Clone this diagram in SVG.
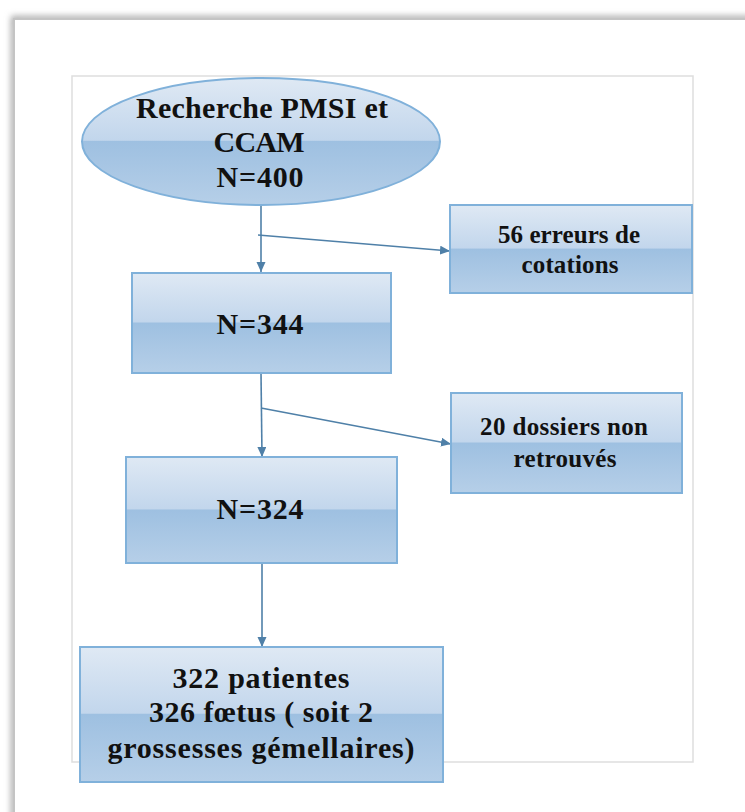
<svg xmlns="http://www.w3.org/2000/svg" width="745" height="812" viewBox="0 0 745 812">
  <defs>
    <linearGradient id="gloss" x1="0" y1="0" x2="0" y2="1">
      <stop offset="0" stop-color="#dfe9f4"/>
      <stop offset="0.49" stop-color="#c2d6ec"/>
      <stop offset="0.5" stop-color="#9ec0e1"/>
      <stop offset="1" stop-color="#b6cfe8"/>
    </linearGradient>
    <filter id="pageShadow" x="-0.1" y="-0.1" width="1.2" height="1.2">
      <feGaussianBlur stdDeviation="3"/>
    </filter>
    <marker id="arrow" markerUnits="userSpaceOnUse" markerWidth="11" markerHeight="10" refX="10" refY="4.5" orient="auto">
      <path d="M0,0 L10,4.5 L0,9 z" fill="#4f80a8"/>
    </marker>
  </defs>
  <style>
    .shape { fill: url(#gloss); stroke: #80b1da; stroke-width: 2; }
    .conn { stroke: #4f80a8; stroke-width: 1.6; fill: none; marker-end: url(#arrow); }
    .lbl { font-family: "Liberation Serif", "Times New Roman", serif; font-weight: bold; fill: #111; text-anchor: middle; }
    .big { font-size: 30px; }
    .mid { font-size: 30px; }
    .small { font-size: 25px; }
  </style>
  <rect width="745" height="812" fill="#ffffff"/>
  <g id="page">
    <rect x="14" y="19" width="800" height="850" fill="none" stroke="#a8a8a8" stroke-width="6" filter="url(#pageShadow)"/>
    <rect x="14" y="19" width="800" height="850" fill="#ffffff" stroke="#c4c4c4" stroke-width="2"/>
    <rect x="72" y="76" width="621" height="686" fill="#ffffff" stroke="#dedede" stroke-width="1.5"/>
  </g>
  <g id="connectors">
    <line class="conn" x1="261" y1="205" x2="261" y2="272"/>
    <line class="conn" x1="258" y1="235" x2="450" y2="251"/>
    <line class="conn" x1="261" y1="373" x2="262" y2="457"/>
    <line class="conn" x1="261" y1="408" x2="451" y2="444"/>
    <line class="conn" x1="262" y1="563" x2="262" y2="647"/>
  </g>
  <g id="node-pmsi">
    <ellipse class="shape" cx="261" cy="141.5" rx="179" ry="63.5"/>
    <text class="lbl big" x="262" y="118" textLength="252" lengthAdjust="spacing">Recherche PMSI et</text>
    <text class="lbl big" x="259" y="152" textLength="91" lengthAdjust="spacing">CCAM</text>
    <text class="lbl big" x="260" y="187" textLength="87" lengthAdjust="spacing">N=400</text>
  </g>
  <g id="node-erreurs">
    <rect class="shape" x="450" y="205" width="242" height="88"/>
    <text class="lbl small" x="569" y="243" textLength="142" lengthAdjust="spacing">56 erreurs de</text>
    <text class="lbl small" x="570" y="273" textLength="97" lengthAdjust="spacing">cotations</text>
  </g>
  <g id="node-344">
    <rect class="shape" x="132" y="273" width="259" height="100"/>
    <text class="lbl big" x="260" y="334" textLength="87" lengthAdjust="spacing">N=344</text>
  </g>
  <g id="node-dossiers">
    <rect class="shape" x="451" y="393" width="231" height="100"/>
    <text class="lbl small" x="564" y="435" textLength="168" lengthAdjust="spacing">20 dossiers non</text>
    <text class="lbl small" x="565" y="467" textLength="103" lengthAdjust="spacing">retrouvés</text>
  </g>
  <g id="node-324">
    <rect class="shape" x="126" y="457" width="271" height="106"/>
    <text class="lbl big" x="260" y="519" textLength="87" lengthAdjust="spacing">N=324</text>
  </g>
  <g id="node-patientes">
    <rect class="shape" x="80" y="647" width="363" height="135"/>
    <text class="lbl mid" x="261" y="688" textLength="177" lengthAdjust="spacing">322 patientes</text>
    <text class="lbl mid" x="261" y="722" textLength="224" lengthAdjust="spacing">326 fœtus ( soit 2</text>
    <text class="lbl mid" x="261" y="758" textLength="307" lengthAdjust="spacing">grossesses gémellaires)</text>
  </g>
</svg>
